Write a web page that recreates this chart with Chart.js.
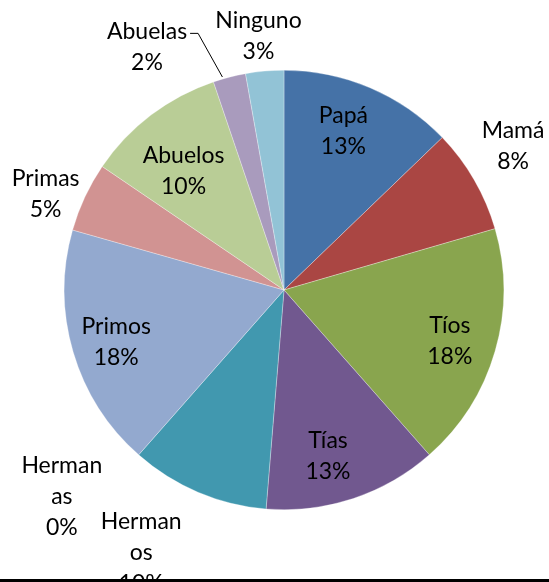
<!DOCTYPE html>
<html>
<head>
<meta charset="utf-8">
<script src="https://cdn.jsdelivr.net/npm/chart.js@4/dist/chart.umd.min.js"></script>
<style>
  html, body { margin: 0; padding: 0; background: #fff; }
  canvas { display: block; }
</style>
</head>
<body>
<canvas id="pieChart" width="549" height="582"></canvas>
<script>
// categorías y porcentajes
const categories = ['Papá', 'Mamá', 'Tíos', 'Tías', 'Hermanos', 'Hermanas', 'Primos', 'Primas', 'Abuelos', 'Abuelas', 'Ninguno'];
const percents = [12.8, 7.7, 18.0, 12.8, 10.2, 0, 17.9, 5.1, 10.3, 2.4, 2.8];
const sliceColors = ['#4572A7', '#AA4643', '#89A54E', '#71588F', '#4198AF', '#DB843D', '#93A9CF', '#D19392', '#B9CD96', '#A99BBD', '#92C3D6'];

// posición de cada etiqueta: radio relativo y desplazamiento angular (grados)
const labelLayout = [
    { r: 0.77, da: -2.5 },
    { r: 1.23, da: -2 },
    { r: 0.79, da: 1 },
    { r: 0.78, da: 3.5 },
    { r: 1.36, da: 5.5 },
    { r: 1.38, da: 5.7 },
    { r: 0.80, da: -1 },
    { r: 1.17, da: -3 },
    { r: 0.71, da: -2.8 },
    { r: 1.27, da: -15, leader: true },
    { r: 1.16, da: -0.7 }
];

const FONT = '23px Lato';
const LINE_H = 31;

const labelPlugin = {
    id: 'sliceLabels',
    afterDatasetsDraw(chart) {
        const ctx = chart.ctx;
        const arcs = chart.getDatasetMeta(0).data;
        ctx.save();
        ctx.font = FONT;
        ctx.fillStyle = '#000';
        ctx.textAlign = 'center';
        ctx.textBaseline = 'middle';
        arcs.forEach((arc, i) => {
            const lay = labelLayout[i];
            const mid = (arc.startAngle + arc.endAngle) / 2 + lay.da * Math.PI / 180;
            const rr = arc.outerRadius * lay.r;
            const cx = arc.x + rr * Math.cos(mid);
            const cy = arc.y + rr * Math.sin(mid);
            let name = categories[i];
            let lines = [name];
            // Excel parte las etiquetas exteriores largas
            if (lay.r > 1 && name.length > 7) lines = [name.slice(0, 6), name.slice(6)];
            lines.push(Math.round(percents[i]) + '%');
            const top = cy - (lines.length - 1) * LINE_H / 2;
            lines.forEach((t, k) => ctx.fillText(t, cx, top + k * LINE_H));

            if (lay.leader) {
                const w = ctx.measureText(lines[0]).width;
                const sx = cx + w / 2 + 3;
                const sy = top + 2;
                const a = arc.startAngle + 0.3 * (arc.endAngle - arc.startAngle);
                const ex = arc.x + (arc.outerRadius + 2) * Math.cos(a);
                const ey = arc.y + (arc.outerRadius + 2) * Math.sin(a);
                ctx.strokeStyle = '#000';
                ctx.lineWidth = 1;
                ctx.beginPath();
                ctx.moveTo(sx, sy);
                ctx.lineTo(sx + 8, sy);
                ctx.lineTo(ex, ey);
                ctx.stroke();
            }
        });
        ctx.restore();
    },
    afterDraw(chart) {
        // borde inferior del área del gráfico
        const ctx = chart.ctx;
        ctx.save();
        ctx.fillStyle = '#000';
        ctx.fillRect(0, 579, chart.width, 3);
        ctx.restore();
    }
};

const ctx = document.getElementById('pieChart').getContext('2d');
new Chart(ctx, {
    type: 'pie',
    data: {
        labels: categories,
        datasets: [{
            data: percents,
            backgroundColor: sliceColors,
            borderColor: 'rgba(255,255,255,0.6)',
            borderWidth: 0.5
        }]
    },
    options: {
        responsive: false,
        animation: false,
        layout: { padding: { left: 64, right: 45, top: 70, bottom: 72 } },
        plugins: {
            legend: { display: false },
            tooltip: { enabled: false }
        }
    },
    plugins: [labelPlugin]
});
</script>
</body>
</html>
